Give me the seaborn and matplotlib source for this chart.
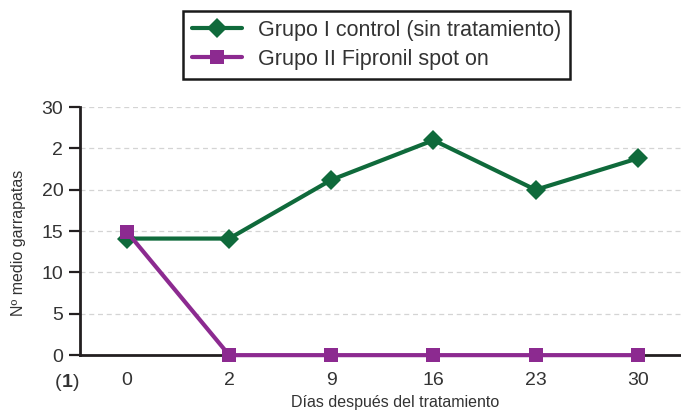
import matplotlib
matplotlib.use("Agg")
import matplotlib.pyplot as plt
import seaborn as sns
import pandas as pd
import numpy as np

# data
dias = ["0", "2", "9", "16", "23", "30"]
control = [14.1, 14.1, 21.2, 26.0, 20.0, 23.8]
fipronil = [14.9, 0.0, 0.0, 0.0, 0.0, 0.0]
y_ticks = [0, 5, 10, 15, 20, 25, 30]
y_labels = ["0", "5", "10", "15", "20", "2", "30"]

lab_ctrl = "Grupo I control (sin tratamiento)"
lab_fip = "Grupo II Fipronil spot on"
GREEN = "#0f6a3b"
PURPLE = "#8c2a90"

sns.set_theme(style="white")
plt.rcParams["font.family"] = ["Liberation Sans", "DejaVu Sans"]

df = pd.DataFrame({
    "pos": list(range(len(dias))) * 2,
    "valor": control + fipronil,
    "grupo": [lab_ctrl] * len(dias) + [lab_fip] * len(dias),
})

fig = plt.figure(figsize=(6.81, 4.12), dpi=100)
ax = fig.add_axes([0.1175, 0.138, 0.882, 0.602])

sns.lineplot(data=df, x="pos", y="valor", hue="grupo", style="grupo",
             palette={lab_ctrl: GREEN, lab_fip: PURPLE},
             markers={lab_ctrl: "D", lab_fip: "s"}, dashes=False,
             linewidth=3, markersize=10.5, markeredgewidth=0, ax=ax)
for ln in ax.lines:
    ln.set_clip_on(False)
    ln.set_zorder(5)

ax.set_xlim(-0.46, 5.42)
ax.set_ylim(0, 30)
ax.set_yticks(y_ticks)
ax.set_yticklabels(y_labels)
ax.yaxis.grid(True, color="#d4d4d4", linestyle=(0, (4, 3)), linewidth=0.9)
ax.set_axisbelow(True)

# x ticks sit between the categories, labels under the points
ax.set_xticks(np.arange(len(dias) - 1) + 0.45)
ax.set_xticklabels([])
ax.set_xticks(np.arange(len(dias)), minor=True)
ax.set_xticklabels(dias, minor=True)
ax.tick_params(axis="x", which="major", direction="in", length=9, width=1.6, color="#231f20")
ax.tick_params(axis="x", which="minor", length=0, pad=12, labelsize=14, labelcolor="#333333")
ax.tick_params(axis="y", direction="out", length=8, width=1.6, color="#231f20",
               labelsize=14, labelcolor="#333333", left=True, pad=4)

for s in ["top", "right"]:
    ax.spines[s].set_visible(False)
for s in ["left", "bottom"]:
    ax.spines[s].set_color("#231f20")
    ax.spines[s].set_linewidth(2)

ax.set_xlabel("")
ax.set_ylabel("")
fig.text(0.027, 0.41, "Nº medio garrapatas", rotation=90, ha="center", va="center",
         fontsize=11.5, color="#333333")
fig.text(0.58, 0.022, "Días después del tratamiento", ha="center", va="center",
         fontsize=11.5, color="#333333")
fig.text(0.090, 0.072, "(", ha="right", va="center", fontsize=14, color="#333333")
fig.text(0.090, 0.072, "1", ha="left", va="center", fontsize=14, fontweight="bold", color="#333333")
fig.text(0.1075, 0.072, ")", ha="left", va="center", fontsize=14, color="#333333")

ax.get_legend().remove()
handles, labels = ax.get_legend_handles_labels()
leg = fig.legend(handles, labels, loc="upper left", bbox_to_anchor=(0.269, 0.974),
                 frameon=True, fancybox=False, framealpha=1, fontsize=15.5,
                 handlelength=2.3, handletextpad=0.75, borderpad=0.42,
                 labelspacing=0.38, borderaxespad=0)
leg.get_frame().set_edgecolor("#1a1a1a")
leg.get_frame().set_linewidth(1.8)
for t in leg.get_texts():
    t.set_color("#333333")

fig.savefig("out.png", dpi=100)
